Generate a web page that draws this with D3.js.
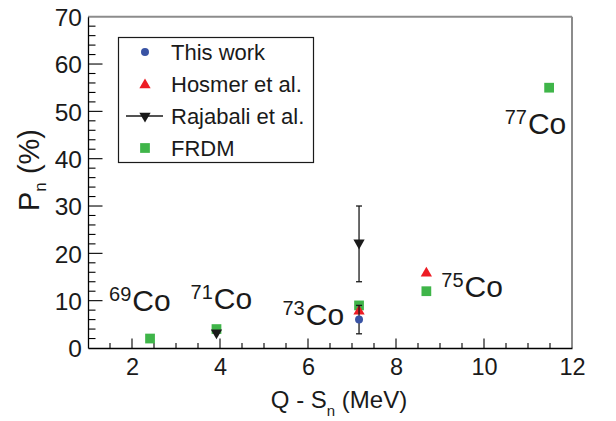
<!DOCTYPE html>
<html>
<head>
<meta charset="utf-8">
<script src="https://cdn.jsdelivr.net/npm/d3@7"></script>
<style>
  html, body { margin: 0; padding: 0; background: #fff; }
  svg { display: block; font-family: "Liberation Sans", Arial, Helvetica, sans-serif; }
</style>
</head>
<body>
<svg id="chart" width="616" height="421"></svg>
<script>
// Delayed-neutron emission probabilities of Co isotopes vs. Q - Sn
const frdmX = [2.41, 3.92, 7.16, 8.69, 11.48];
const frdmY = [2, 4, 9, 12, 55];

const hosmerX = [7.16, 8.69];
const hosmerY = [8, 16];

const rajabaliX = [3.92, 7.16];
const rajabaliY = [3, 22];
const rajabaliErr = [0, 8];

const thisWorkX = [7.16];
const thisWorkY = [6];
const thisWorkErr = [3];

const isotopeMass = ["69", "71", "73", "75", "77"];
const isotopeLabelX = [1.48, 3.33, 5.42, 9.03, 10.47];
const isotopeLabelY = [7.9, 8.2, 4.9, 10.8, 45.2];

const xTicks = [2, 4, 6, 8, 10, 12];
const yTicks = [0, 10, 20, 30, 40, 50, 60, 70];

const legendLabels = ["This work", "Hosmer et al.", "Rajabali et al.", "FRDM"];

const colors = { blue: "#3953a4", red: "#ed1c24", black: "#1a1a1a", green: "#3fb549" };

const svg = d3.select("#chart");
const x = d3.scaleLinear().domain([1, 12]).range([88, 572]);
const y = d3.scaleLinear().domain([0, 70]).range([348, 16.7]);

// Frame: top and right edges in grey
svg.append("line").attr("x1", x(1)).attr("x2", x(12)).attr("y1", y(70)).attr("y2", y(70))
  .attr("stroke", "#8c8c8c").attr("stroke-width", 2);
svg.append("line").attr("x1", x(12)).attr("x2", x(12)).attr("y1", y(70)).attr("y2", y(0))
  .attr("stroke", "#8c8c8c").attr("stroke-width", 2);

// Bottom axis with major and minor ticks drawn inward
const xAxis = d3.axisBottom(x).tickValues(xTicks).tickSize(0).tickFormat(d3.format("d"));
const gx = svg.append("g").attr("transform", `translate(0,${y(0)})`).call(xAxis);
gx.select(".domain").attr("stroke", "#000").attr("stroke-width", 1.3);
gx.selectAll(".tick text").attr("font-size", 23.5).attr("fill", "#1a1a1a").attr("dy", 0).attr("y", 27);
const xMinor = d3.range(1.5, 12, 0.5);
gx.selectAll(".mtick").data(xMinor).enter().append("line")
  .attr("x1", d => x(d)).attr("x2", d => x(d)).attr("y1", 0)
  .attr("y2", d => (Math.abs(d - Math.round(d / 2) * 2) < 1e-6 ? -9.5 : -5))
  .attr("stroke", "#000").attr("stroke-width", 1.1);

// Left axis
const yAxis = d3.axisLeft(y).tickValues(yTicks).tickSize(0).tickFormat(d3.format("d"));
const gy = svg.append("g").attr("transform", `translate(${x(1)},0)`).call(yAxis);
gy.select(".domain").attr("stroke", "#000").attr("stroke-width", 1.3);
gy.selectAll(".tick text").attr("font-size", 24.5).attr("fill", "#1a1a1a").attr("x", -6).attr("dy", "0.36em");
const yMinor = d3.range(2, 70, 2);
gy.selectAll(".mtick").data(yMinor).enter().append("line")
  .attr("y1", d => y(d)).attr("y2", d => y(d)).attr("x1", 0)
  .attr("x2", d => (d % 10 === 0 ? 14.5 : 7.5))
  .attr("stroke", "#000").attr("stroke-width", 1.1);

// Axis titles
const xt = svg.append("text").attr("x", 339).attr("y", 408).attr("text-anchor", "middle")
  .attr("font-size", 24).attr("fill", "#1a1a1a");
xt.append("tspan").text("Q - S");
xt.append("tspan").attr("font-size", 15).attr("dy", 8).text("n");
xt.append("tspan").attr("dy", -8).text(" (MeV)");

const yt = svg.append("text").attr("transform", "translate(39,170) rotate(-90)")
  .attr("text-anchor", "middle").attr("font-size", 29).attr("fill", "#1a1a1a");
yt.append("tspan").text("P");
yt.append("tspan").attr("font-size", 17).attr("dy", 7).text("n");
yt.append("tspan").attr("dy", -7).text(" (%)");

// Marker shapes
const sq = d3.symbol().type(d3.symbolSquare).size(95);
const tri = d3.symbol().type(d3.symbolTriangle).size(55);
const circ = d3.symbol().type(d3.symbolCircle).size(50);

const plot = svg.append("g");

// FRDM
plot.selectAll(".frdm").data(frdmX).enter().append("path")
  .attr("d", sq).attr("fill", colors.green)
  .attr("transform", (d, i) => `translate(${x(d)},${y(frdmY[i])})`);

// Hosmer et al.
plot.selectAll(".hosmer").data(hosmerX).enter().append("path")
  .attr("d", tri).attr("fill", colors.red)
  .attr("transform", (d, i) => `translate(${x(d)},${y(hosmerY[i]) + 1})`);

// Error bars with caps
function errorBar(g, cx, cy, err) {
  if (!err) return;
  const top = y(cy + err), bot = y(cy - err), px = x(cx);
  g.append("line").attr("x1", px).attr("x2", px).attr("y1", top).attr("y2", bot)
    .attr("stroke", "#1a1a1a").attr("stroke-width", 1.3);
  [top, bot].forEach(v => g.append("line").attr("x1", px - 3).attr("x2", px + 3)
    .attr("y1", v).attr("y2", v).attr("stroke", "#1a1a1a").attr("stroke-width", 1.3));
}

// This work
thisWorkX.forEach((d, i) => errorBar(plot, d, thisWorkY[i], thisWorkErr[i]));
plot.selectAll(".tw").data(thisWorkX).enter().append("path")
  .attr("d", circ).attr("fill", colors.blue)
  .attr("transform", (d, i) => `translate(${x(d)},${y(thisWorkY[i])})`);

// Rajabali et al.
rajabaliX.forEach((d, i) => errorBar(plot, d, rajabaliY[i], rajabaliErr[i]));
plot.selectAll(".raj").data(rajabaliX).enter().append("path")
  .attr("d", tri).attr("fill", colors.black)
  .attr("transform", (d, i) => `translate(${x(d)},${y(rajabaliY[i]) - 1}) rotate(180)`);

// Isotope labels
isotopeMass.forEach((m, i) => {
  const t = svg.append("text").attr("x", x(isotopeLabelX[i])).attr("y", y(isotopeLabelY[i]))
    .attr("font-size", 30).attr("fill", "#1a1a1a");
  t.append("tspan").attr("font-size", 20).attr("dy", -10).text(m);
  t.append("tspan").attr("dy", 10).attr("dx", 1).text("Co");
});

// Legend
const lg = svg.append("g");
lg.append("rect").attr("x", 118.5).attr("y", 37.5).attr("width", 195).attr("height", 125)
  .attr("fill", "#fff").attr("stroke", "#1a1a1a").attr("stroke-width", 1.2);
const rowY = [52, 84, 116, 148];
const mx = 145;
lg.append("path").attr("d", circ).attr("fill", colors.blue).attr("transform", `translate(${mx},${rowY[0]})`);
lg.append("path").attr("d", tri).attr("fill", colors.red).attr("transform", `translate(${mx},${rowY[1] + 1})`);
lg.append("line").attr("x1", 126).attr("x2", 163).attr("y1", rowY[2]).attr("y2", rowY[2])
  .attr("stroke", "#1a1a1a").attr("stroke-width", 1.3);
lg.append("path").attr("d", tri).attr("fill", colors.black).attr("transform", `translate(${mx},${rowY[2]}) rotate(180)`);
lg.append("path").attr("d", sq).attr("fill", colors.green).attr("transform", `translate(${mx},${rowY[3]})`);
lg.selectAll(".lt").data(legendLabels).enter().append("text")
  .attr("x", 171).attr("y", (d, i) => rowY[i]).attr("dy", "0.36em")
  .attr("font-size", 22).attr("fill", "#1a1a1a").text(d => d);
</script>
</body>
</html>
